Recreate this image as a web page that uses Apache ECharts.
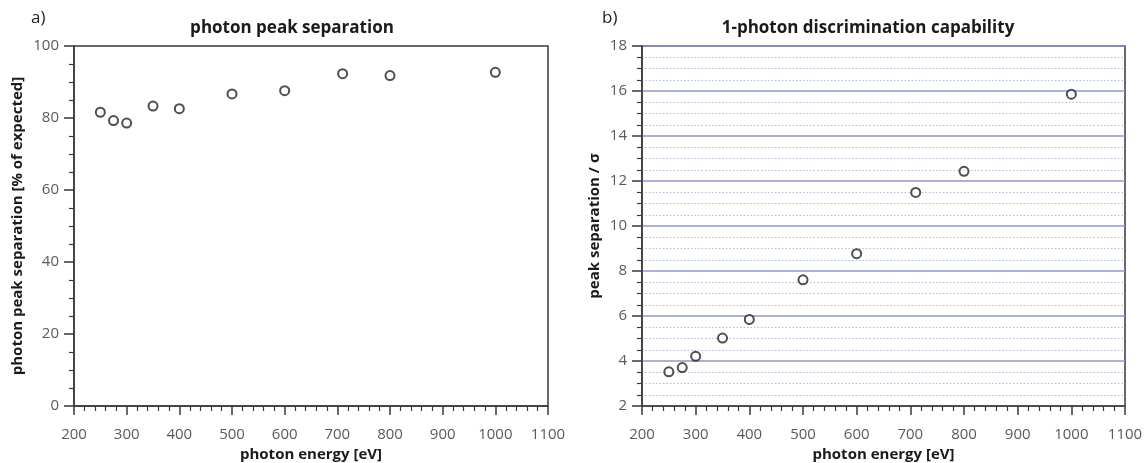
<!DOCTYPE html>
<html>
<head>
<meta charset="utf-8">
<script src="https://cdn.jsdelivr.net/npm/echarts@6/dist/echarts.min.js"></script>
<style>
html,body{margin:0;padding:0;background:#fff;}
#chart{width:1147px;height:463px;}
</style>
</head>
<body>
<div id="chart"></div>
<script>
const energies = [250, 275, 300, 350, 400, 500, 600, 710, 800, 1000];
const peakSeparationPct = [81.6, 79.3, 78.6, 83.3, 82.6, 86.7, 87.6, 92.3, 91.8, 92.7];
const discrimination = [3.52, 3.71, 4.21, 5.02, 5.85, 7.61, 8.77, 11.49, 12.43, 15.86];

const titles = ['photon peak separation', '1-photon discrimination capability'];
const panelLabels = ['a)', 'b)'];
const xName = 'photon energy [eV]';
const yNames = ['photon peak separation [% of expected]', 'peak separation / σ'];

const FONT = '"Open Sans", "DejaVu Sans", sans-serif';
const AXIS_COLOR = '#3a3a3a';
const LABEL_COLOR = '#5a5a5a';

function xAxisCfg(gridIndex) {
  return {
    type: 'value', gridIndex, min: 200, max: 1100, interval: 100,
    name: xName, nameLocation: 'middle', nameGap: 40,
    nameTextStyle: {fontFamily: FONT, fontWeight: 'bold', fontSize: 15, color: '#1a1a1a'},
    axisLine: {show: true, lineStyle: {color: AXIS_COLOR, width: 1.5}},
    axisTick: {show: true, length: 9, lineStyle: {color: AXIS_COLOR, width: 1.5}},
    minorTick: {show: true, splitNumber: 5, length: 5, lineStyle: {color: AXIS_COLOR, width: 1.2}},
    axisLabel: {fontFamily: FONT, fontSize: 15, color: LABEL_COLOR, margin: 21, formatter: v => String(v)},
    splitLine: {show: false}
  };
}

const chart = echarts.init(document.getElementById('chart'), null, {renderer: 'canvas'});
chart.setOption({
  animation: false,
  backgroundColor: '#ffffff',
  title: [
    {text: panelLabels[0], left: 26, top: 5, textStyle: {fontFamily: FONT, fontSize: 17, fontWeight: 'normal', color: '#222'}},
    {text: panelLabels[1], left: 597, top: 5, textStyle: {fontFamily: FONT, fontSize: 17, fontWeight: 'normal', color: '#222'}},
    {text: titles[0], left: 287, textAlign: 'center', top: 15, textStyle: {fontFamily: FONT, fontSize: 17, fontWeight: 'bold', color: '#1a1a1a'}},
    {text: titles[1], left: 863, textAlign: 'center', top: 15, textStyle: {fontFamily: FONT, fontSize: 17, fontWeight: 'bold', color: '#1a1a1a'}}
  ],
  grid: [
    {left: 74, top: 46, width: 474, height: 360, containLabel: false, outerBoundsMode: 'none', show: true, borderColor: AXIS_COLOR, borderWidth: 1.5, backgroundColor: 'transparent'},
    {left: 642, top: 46, width: 483, height: 360, containLabel: false, outerBoundsMode: 'none', show: true, borderColor: AXIS_COLOR, borderWidth: 1.5, backgroundColor: 'transparent'}
  ],
  xAxis: [xAxisCfg(0), xAxisCfg(1)],
  yAxis: [
    {
      type: 'value', gridIndex: 0, min: 0, max: 100, interval: 20,
      name: yNames[0], nameLocation: 'middle', nameGap: 49,
      nameTextStyle: {fontFamily: FONT, fontWeight: 'bold', fontSize: 15, color: '#1a1a1a'},
      axisLine: {show: true, lineStyle: {color: AXIS_COLOR, width: 1.5}},
      axisTick: {show: true, length: 10, lineStyle: {color: AXIS_COLOR, width: 1.5}},
      minorTick: {show: true, splitNumber: 4, length: 5, lineStyle: {color: AXIS_COLOR, width: 1.2}},
      axisLabel: {fontFamily: FONT, fontSize: 15, color: LABEL_COLOR, margin: 15},
      splitLine: {show: false}
    },
    {
      type: 'value', gridIndex: 1, min: 2, max: 18, interval: 2,
      name: yNames[1], nameLocation: 'middle', nameGap: 40,
      nameTextStyle: {fontFamily: FONT, fontWeight: 'bold', fontSize: 15, color: '#1a1a1a'},
      axisLine: {show: true, lineStyle: {color: AXIS_COLOR, width: 1.5}},
      axisTick: {show: true, length: 10, lineStyle: {color: AXIS_COLOR, width: 1.5}},
      minorTick: {show: true, splitNumber: 4, length: 5, lineStyle: {color: AXIS_COLOR, width: 1.2}},
      axisLabel: {fontFamily: FONT, fontSize: 15, color: LABEL_COLOR, margin: 15},
      splitLine: {show: true, lineStyle: {color: '#8e98cc', width: 1.6}},
      minorSplitLine: {show: true, lineStyle: {color: '#b3bad8', width: 1, type: [1.5, 2]}}
    }
  ],
  series: [
    {
      type: 'scatter', xAxisIndex: 0, yAxisIndex: 0,
      data: energies.map((e, i) => [e, peakSeparationPct[i]]),
      symbol: 'emptyCircle', symbolSize: 9,
      itemStyle: {color: '#222', borderColor: '#222', borderWidth: 1.4}
    },
    {
      type: 'scatter', xAxisIndex: 1, yAxisIndex: 1,
      data: energies.map((e, i) => [e, discrimination[i]]),
      symbol: 'emptyCircle', symbolSize: 9,
      itemStyle: {color: '#222', borderColor: '#222', borderWidth: 1.4}
    }
  ]
});
</script>
</body>
</html>
